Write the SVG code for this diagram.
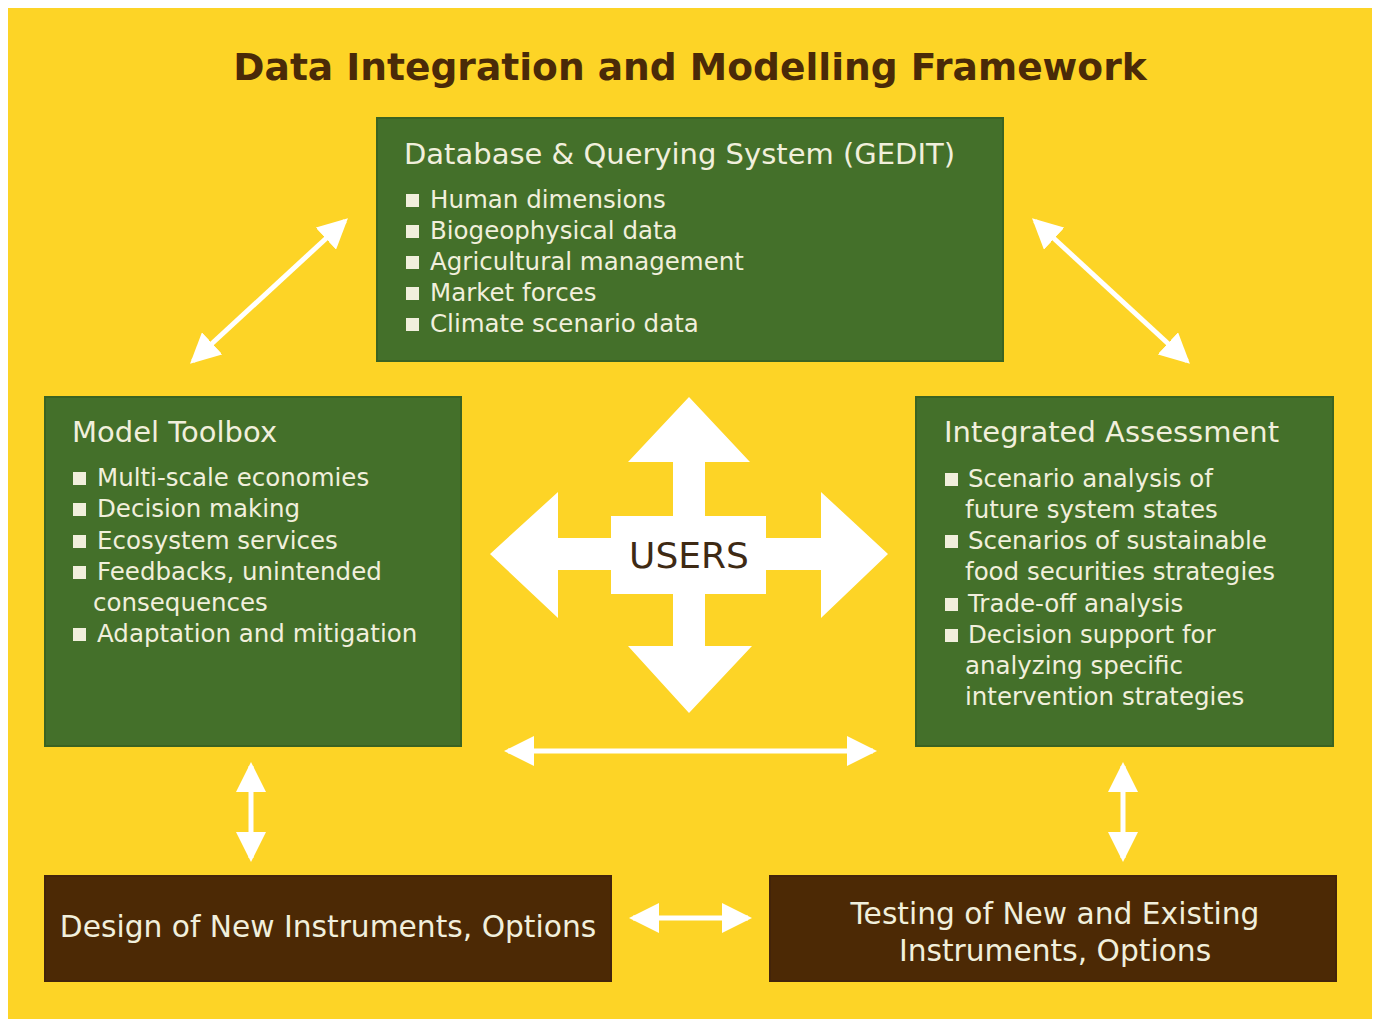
<svg xmlns="http://www.w3.org/2000/svg" width="1376" height="1019" viewBox="0 0 1376 1019">
<defs>
<style>
.bg{fill:#FDD426}
.green{fill:#44702A;stroke:#3A6322;stroke-width:2}
.brown{fill:#4C2905;stroke:#43240A;stroke-width:2}
.t{font-family:"DejaVu Sans","Liberation Sans",sans-serif;fill:#F1EFDC}
.h{font-size:29px}
.h2{font-size:29.7px}
.b{font-size:24.5px}
.sq{fill:#F1EFDC}
.title{font-family:"DejaVu Sans","Liberation Sans",sans-serif;font-weight:bold;font-size:37.6px;fill:#4A2A08}
.conn{stroke:#FFFFFF;stroke-width:5;fill:none}
.users{font-family:"DejaVu Sans","Liberation Sans",sans-serif;font-size:36px;fill:#3E2A14}
</style>
<marker id="ah" viewBox="0 0 30 30" refX="26" refY="15" markerWidth="30" markerHeight="30" markerUnits="userSpaceOnUse" orient="auto-start-reverse">
<path d="M0,0 L30,15 L0,30 z" fill="#FFFFFF"/>
</marker>
</defs>
<rect x="0" y="0" width="1376" height="1019" fill="#FFFFFF"/>
<rect class="bg" x="8" y="8" width="1364" height="1011"/>
<text class="title" x="690" y="80" text-anchor="middle">Data Integration and Modelling Framework</text>

<g id="connectors">
<line class="conn" x1="193" y1="361" x2="345" y2="221" marker-start="url(#ah)" marker-end="url(#ah)"/>
<line class="conn" x1="1035" y1="221" x2="1187" y2="361" marker-start="url(#ah)" marker-end="url(#ah)"/>
<line class="conn" x1="508" y1="751" x2="873" y2="751" marker-start="url(#ah)" marker-end="url(#ah)"/>
<line class="conn" x1="251" y1="766" x2="251" y2="858" marker-start="url(#ah)" marker-end="url(#ah)"/>
<line class="conn" x1="1123" y1="766" x2="1123" y2="858" marker-start="url(#ah)" marker-end="url(#ah)"/>
<line class="conn" x1="633" y1="918" x2="748" y2="918" marker-start="url(#ah)" marker-end="url(#ah)"/>
</g>

<g id="users">
<path fill="#FFFFFF" d="M689,397 L750,462 L705,462 L705,516 L766,516 L766,538 L821,538 L821,492 L888,554 L821,618 L821,570 L766,570 L766,594 L705,594 L705,646 L752,646 L689,713 L628,646 L673,646 L673,594 L611,594 L611,570 L558,570 L558,618 L490,554 L558,492 L558,538 L611,538 L611,516 L673,516 L673,462 L628,462 Z"/>
<text class="users" x="689" y="568" text-anchor="middle">USERS</text>
</g>

<g id="database">
<rect class="green" x="377" y="118" width="626" height="243"/>
<text class="t h" x="404" y="164">Database &amp; Querying System (GEDIT)</text>
<rect class="sq" x="406" y="194" width="13" height="13"/>
<rect class="sq" x="406" y="225" width="13" height="13"/>
<rect class="sq" x="406" y="256" width="13" height="13"/>
<rect class="sq" x="406" y="287" width="13" height="13"/>
<rect class="sq" x="406" y="318" width="13" height="13"/>
<text class="t b" x="430" y="208">Human dimensions</text>
<text class="t b" x="430" y="239">Biogeophysical data</text>
<text class="t b" x="430" y="270">Agricultural management</text>
<text class="t b" x="430" y="301">Market forces</text>
<text class="t b" x="430" y="332">Climate scenario data</text>
</g>

<g id="model-toolbox">
<rect class="green" x="45" y="397" width="416" height="349"/>
<text class="t h" x="72" y="442">Model Toolbox</text>
<rect class="sq" x="73" y="472" width="13" height="13"/>
<rect class="sq" x="73" y="503" width="13" height="13"/>
<rect class="sq" x="73" y="535" width="13" height="13"/>
<rect class="sq" x="73" y="566" width="13" height="13"/>
<rect class="sq" x="73" y="628" width="13" height="13"/>
<text class="t b" x="97" y="486">Multi-scale economies</text>
<text class="t b" x="97" y="517">Decision making</text>
<text class="t b" x="97" y="549">Ecosystem services</text>
<text class="t b" x="97" y="580">Feedbacks, unintended</text>
<text class="t b" x="93" y="611">consequences</text>
<text class="t b" x="97" y="642">Adaptation and mitigation</text>
</g>

<g id="integrated-assessment">
<rect class="green" x="916" y="397" width="417" height="349"/>
<text class="t h" x="944" y="442">Integrated Assessment</text>
<rect class="sq" x="945" y="473" width="13" height="13"/>
<rect class="sq" x="945" y="535" width="13" height="13"/>
<rect class="sq" x="945" y="598" width="13" height="13"/>
<rect class="sq" x="945" y="629" width="13" height="13"/>
<text class="t b" x="968" y="487">Scenario analysis of</text>
<text class="t b" x="965" y="518">future system states</text>
<text class="t b" x="968" y="549">Scenarios of sustainable</text>
<text class="t b" x="965" y="580">food securities strategies</text>
<text class="t b" x="968" y="612">Trade-off analysis</text>
<text class="t b" x="968" y="643">Decision support for</text>
<text class="t b" x="965" y="674">analyzing specific</text>
<text class="t b" x="965" y="705">intervention strategies</text>
</g>

<g id="design">
<rect class="brown" x="45" y="876" width="566" height="105"/>
<text class="t h2" x="328" y="937" text-anchor="middle">Design of New Instruments, Options</text>
</g>

<g id="testing">
<rect class="brown" x="770" y="876" width="566" height="105"/>
<text class="t h2" x="1055" y="924" text-anchor="middle">Testing of New and Existing</text>
<text class="t h2" x="1055" y="961" text-anchor="middle">Instruments, Options</text>
</g>
</svg>
